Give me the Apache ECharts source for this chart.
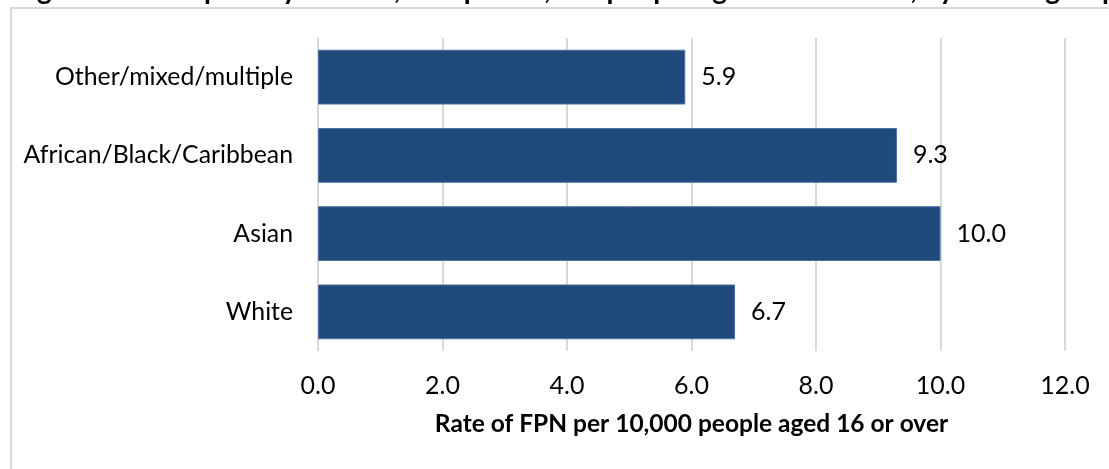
<!DOCTYPE html>
<html>
<head>
<meta charset="utf-8">
<script src="https://cdn.jsdelivr.net/npm/echarts@6/dist/echarts.min.js"></script>
<style>
html,body{margin:0;padding:0;background:#fff;}
#chart{width:1109px;height:469px;}
</style>
</head>
<body>
<div id="chart"></div>
<script>
const categories = ['White', 'Asian', 'African/Black/Caribbean', 'Other/mixed/multiple'];
const rates = [6.7, 10.0, 9.3, 5.9];
const xTicks = [0, 2, 4, 6, 8, 10, 12];
const titleText = 'Figure 5: Fixed penalty notices, rate per 10,000 people aged 16 and over, by ethnic group';
const axisTitle = 'Rate of FPN per 10,000 people aged 16 or over';

const FONT = 'Lato';
const chart = echarts.init(document.getElementById('chart'), null, {renderer: 'canvas'});
chart.setOption({
  animation: false,
  backgroundColor: '#ffffff',
  graphic: [
    {
      type: 'rect', silent: true, z: -1,
      shape: {x: 11, y: 8, width: 1300, height: 700},
      style: {fill: 'none', stroke: '#d9d9d9', lineWidth: 2}
    },
    {
      type: 'text', silent: true,
      x: 14, y: 4,
      style: {
        text: titleText, fontFamily: FONT, fontWeight: 'bold', fontSize: 28,
        lineHeight: 28, verticalAlign: 'bottom', align: 'left', fill: '#000'
      }
    }
  ],
  grid: {left: 318, right: 44, top: 38, bottom: 118, containLabel: false},
  xAxis: {
    type: 'value',
    min: xTicks[0], max: xTicks[xTicks.length - 1], interval: 2,
    axisLine: {show: false},
    axisTick: {show: false},
    splitLine: {show: true, lineStyle: {color: '#d9d9d9', width: 2}},
    axisLabel: {
      margin: 22, fontFamily: FONT, fontSize: 25, color: '#000',
      formatter: v => v.toFixed(1)
    },
    name: axisTitle,
    nameLocation: 'middle',
    nameGap: 61,
    nameTextStyle: {fontFamily: FONT, fontSize: 24.5, fontWeight: 'bold', color: '#000'}
  },
  yAxis: {
    type: 'category',
    data: categories,
    axisLine: {show: false},
    axisTick: {show: false},
    axisLabel: {margin: 25, fontFamily: FONT, fontSize: 24.8, color: '#000'}
  },
  series: [{
    type: 'bar',
    data: rates,
    barCategoryGap: '30%',
    itemStyle: {color: '#1F4A7C', borderColor: '#4d71a3', borderWidth: 1},
    label: {
      show: true, position: 'right', distance: 16,
      fontFamily: FONT, fontSize: 25, color: '#000',
      formatter: p => p.value.toFixed(1)
    }
  }]
});
</script>
</body>
</html>
